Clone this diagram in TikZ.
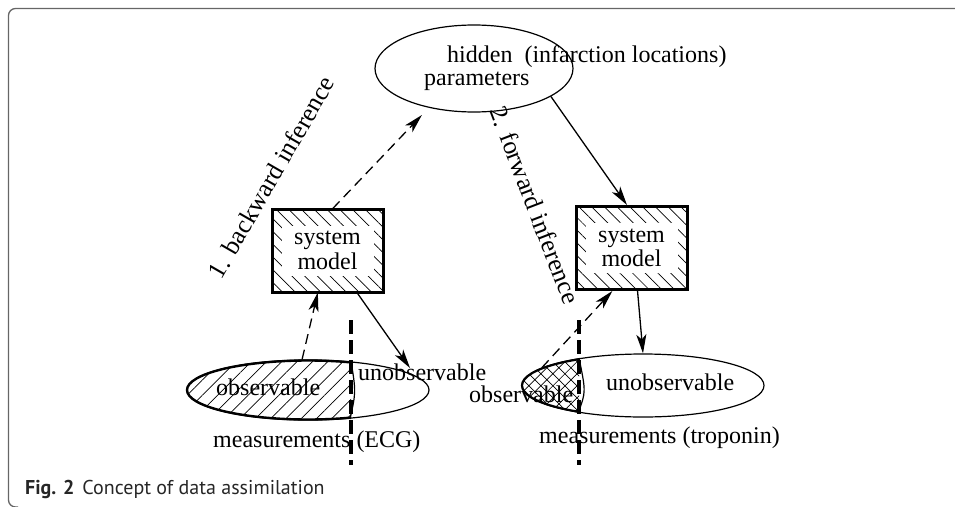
\documentclass[tikz,border=0pt]{standalone}
\usepackage{fontspec}
\setmainfont{Liberation Serif}
\newfontfamily\capfont{PT Sans}
\usetikzlibrary{shapes.geometric,patterns.meta,arrows.meta}

\begin{document}
\begin{tikzpicture}[x=1pt, y=-1pt,
    txt/.style={font=\fontsize{24}{24.5}\selectfont, inner sep=0pt},
    slant/.style={font=\fontsize{25.5}{26}\selectfont, inner sep=0pt},
    blob/.style={draw, ellipse, line width=1.2pt, inner sep=0pt},
    model/.style={draw, line width=3pt, minimum width=111pt, minimum height=83pt,
        pattern={Lines[angle=-45,distance=9pt,line width=0.7pt]}},
    infer/.style={line width=1.3pt, -{Stealth[length=19pt,width=10pt,inset=5pt]}},
    guess/.style={infer, dash pattern=on 10pt off 6pt},
    divider/.style={line width=3.5pt, dash pattern=on 14pt off 6pt}]
    \useasboundingbox (0,0) rectangle (955,506);
    %frame
    \draw[black!60, line width=1.3pt, rounded corners=7pt] (960,8.5) -- (8.5,8.5) -- (8.5,507) -- (18,507);

    %ellipses and boxes
    \node[blob, minimum width=198pt, minimum height=87pt] (hidden) at (474,68.5) {};
    \node[blob, minimum width=242pt, minimum height=60pt] (lmeas) at (308,390) {};
    \node[blob, minimum width=242pt, minimum height=63pt] (rmeas) at (643,385.5) {};
    \node[model] (lbox) at (327.5,250.5) {};
    \node[model] (rbox) at (631.5,248) {};

    %observable parts
    \begin{scope}
        \clip (0,0) rectangle (351,506);
        \path[pattern={Lines[angle=45,distance=10.8pt,line width=0.7pt]}] (lmeas.center) ellipse [x radius=121pt, y radius=30pt];
        \draw[line width=2.4pt] (lmeas.center) ellipse [x radius=121pt, y radius=29.5pt];
    \end{scope}
    \begin{scope}
        \clip (0,0) rectangle (579,506);
        \path[pattern={Hatch[angle=45,distance=8.5pt,line width=0.7pt]}] (rmeas.center) ellipse [x radius=121pt, y radius=31.5pt];
        \draw[line width=2.2pt] (rmeas.center) ellipse [x radius=121pt, y radius=31pt];
    \end{scope}
    \draw[line width=1.2pt] (351,361) .. controls (356,392) .. (350,419);
    \draw[line width=1.2pt] (579,358) .. controls (586,392) .. (578,413);
    \draw[divider] (351,320) -- (351,465);
    \draw[divider] (579,320) -- (579,465);

    %texts
    \node[txt, anchor=base west] (hidtop) at (447,62) {hidden\ \ (infarction locations)};
    \node[txt, anchor=base west] (hidbot) at (424,85) {parameters};
    \foreach \b in {lbox,rbox} {
        \node[txt, fill=white, align=center, minimum width=92pt, minimum height=50pt] (\b txt) at (\b) {system\\model};
    }
    \node[txt, anchor=base west] (lobs) at (216,395) {observable};
    \node[txt, anchor=base west] (lunobs) at (358,380) {unobservable};
    \node[txt, anchor=base west] (lmtxt) at (213,447) {measurements (ECG)};
    \node[txt, anchor=base west] (robs) at (469,402) {observable};
    \node[txt, anchor=base west] (runobs) at (606,390) {unobservable};
    \node[txt, anchor=base west] (rmtxt) at (539,443) {measurements (troponin)};
    \node[slant, rotate=60] (back) at (271,177) {1. backward inference};
    \node[slant, rotate=-69] (fwd) at (535,205) {2. forward inference};

    %arrows
    \coordinate (ltip) at (410,368);
    \draw[guess] (lmeas.101) -- (lbox.257);
    \draw[guess, shorten >=10pt] (lbox.83) -- (hidden.221);
    \draw[infer] (lbox.305) -- (ltip);
    \draw[infer] (hidden.-20) -- (rbox.96);
    \draw[guess] (rmeas.170) -- (rbox.246);
    \draw[infer] (rbox.278) -- (rmeas.north);

    %caption
    \node[anchor=base west, inner sep=0pt, text=black!85, font=\capfont\fontsize{20}{22}\selectfont] (cap) at (25,494) {\textbf{Fig. 2}\hspace{8pt}Concept of data assimilation};
\end{tikzpicture}
\end{document}
